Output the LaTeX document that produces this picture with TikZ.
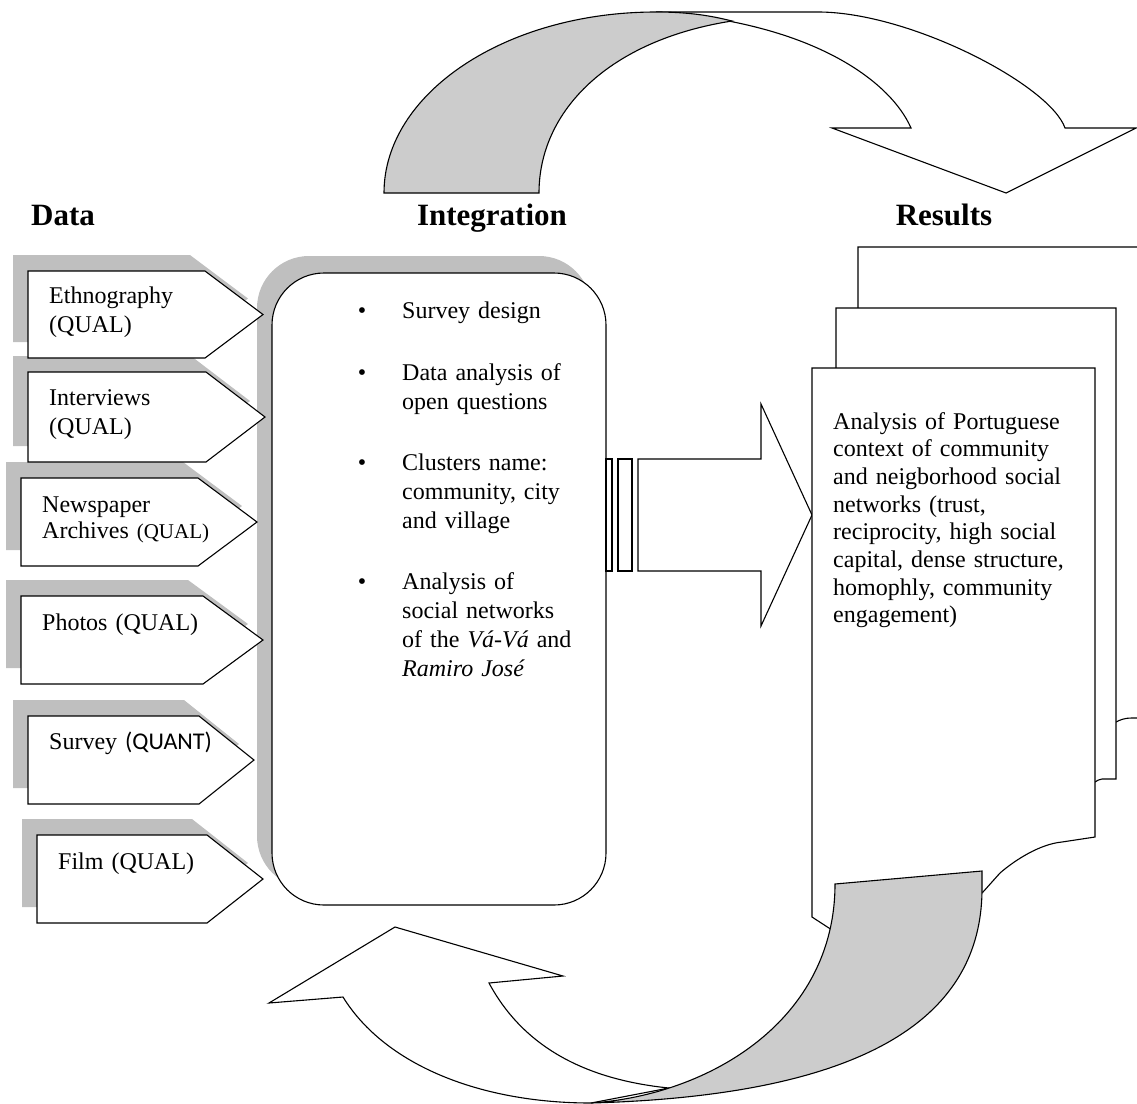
\documentclass[tikz,border=0pt]{standalone}
\usepackage{fontspec}
\setmainfont{Liberation Serif}
\newfontfamily\calibri{Carlito}
\usepackage{xcolor}
\definecolor{shadowgray}{gray}{0.75}
\definecolor{ribbongray}{gray}{0.8}
\def\tags{28/271/205/263/358, 28/372/206/265/462, 21/478/198/257/566,
  21/596/203/263/684, 28/716/199/254/804, 37/835/207/263/923}
\begin{document}
\begin{tikzpicture}[x=1pt,y=-1pt,
  outline/.style={draw=black,line width=1.1pt,line join=miter,fill=white},
  head/.style={anchor=base,inner sep=0pt,font=\fontsize{31pt}{36pt}\selectfont\bfseries},
  tagtext/.style={anchor=base west,inner sep=0pt,text width=200pt,align=left,
    font=\fontsize{24pt}{29pt}\selectfont},
  itemtext/.style={anchor=base west,inner sep=0pt,text width=200pt,align=left,
    font=\fontsize{24pt}{29pt}\selectfont},
  resulttext/.style={anchor=base west,inner sep=0pt,text width=262pt,align=left,
    font=\fontsize{24pt}{27.7pt}\selectfont}]
  \useasboundingbox (0,0) rectangle (1137,1103);

  \node[head] (data) at (63,225) {Data};
  \node[head] (integration) at (492,225) {Integration};
  \node[head] (results) at (944,225) {Results};

  \filldraw[outline] (656,12) -- (818,12) .. controls (910,12) and (1050,85) .. (1065,128)
    -- (1136,128) -- (1006,193) -- (832,128) -- (911,128)
    .. controls (890,80) and (810,22) .. (656,12) -- cycle;
  \filldraw[outline,fill=ribbongray] (384,193) .. controls (384,93) and (506,12) .. (656,12)
    .. controls (690,12) and (712,16) .. (732,21)
    .. controls (610,40) and (539,110) .. (539,193) -- cycle;

  \fill[shadowgray,rounded corners=52pt] (257,256) rectangle (591,888);
  \filldraw[outline,rounded corners=52pt] (272,273) rectangle (606,905);

  \foreach \l/\t/\r/\p/\b in \tags
    \fill[shadowgray] (\l-15,\t-16) -- (\r-15,\t-16) -- (\p-15,{(\t+\b)/2-16})
      -- (\r-15,\b-16) -- (\l-15,\b-16) -- cycle;
  \foreach \l/\t/\r/\p/\b in \tags
    \filldraw[outline] (\l,\t) -- (\r,\t) -- (\p,{(\t+\b)/2}) -- (\r,\b) -- (\l,\b) -- cycle;

  \node[tagtext] (ethno) at (49,303) {Ethnography\\(QUAL)};
  \node[tagtext] (inter) at (49,405) {Interviews\\(QUAL)};
  \node[tagtext,font=\fontsize{24pt}{26pt}\selectfont] (news) at (42,512)
    {Newspaper\\Archives {\fontsize{21pt}{26pt}\selectfont(QUAL)}};
  \node[tagtext] (photo) at (42,630) {Photos (QUAL)};
  \node[tagtext] (surv) at (49,749) {Survey {\calibri(QUANT)}};
  \node[tagtext] (film) at (58,869) {Film (QUAL)};

  \node[itemtext] (design) at (402,318) {\llap{\textbullet\hspace{36pt}}Survey design};
  \node[itemtext] (open) at (402,380) {\llap{\textbullet\hspace{36pt}}Data analysis of\\open questions};
  \node[itemtext] (clusters) at (402,470) {\llap{\textbullet\hspace{36pt}}Clusters name:\\community, city\\and village};
  \node[itemtext] (networks) at (402,589) {\llap{\textbullet\hspace{36pt}}Analysis of\\social networks\\of the \textit{Vá-Vá} and\\\textit{Ramiro José}};

  \draw[outline] (606,459) rectangle (612,571);
  \draw[outline] (618,459) rectangle (632,571);
  \filldraw[outline] (638,459) -- (761,459) -- (761,404) -- (812,515) -- (761,626)
    -- (761,571) -- (638,571) -- cycle;

  \filldraw[outline] (858,247) -- (1150,247) -- (1150,718) -- (1132,718)
    .. controls (1124,718) and (1120,720) .. (1116,722) -- (858,722) -- cycle;
  \filldraw[outline] (836,308) -- (1116,308) -- (1116,779) -- (1102,779)
    .. controls (1099,779) and (1097,781) .. (1095,782) -- (836,782) -- cycle;
  \filldraw[outline] (812,368) -- (1095,368) -- (1095,837) -- (1062,842)
    .. controls (1040,844) and (1015,860) .. (1000,873) -- (983,892) -- (832,930)
    -- (812,917) -- cycle;
  \node[resulttext] (analysis) at (833,429) {Analysis of Portuguese\\context of community\\
    and neigborhood social\\networks (trust,\\reciprocity, high social\\
    capital, dense structure,\\homophly, community\\engagement)};

  \filldraw[outline] (343,997) -- (269,1003) -- (395,927) -- (563,976) -- (489,983)
    .. controls (525,1050) and (590,1080) .. (669,1088) -- (591,1103)
    .. controls (480,1103) and (385,1065) .. (343,997) -- cycle;
  \filldraw[outline,fill=ribbongray] (835,884) -- (982,871) -- (982,892)
    .. controls (980,1010) and (880,1095) .. (591,1103)
    .. controls (710,1095) and (835,1020) .. (835,884) -- cycle;
\end{tikzpicture}
\end{document}
